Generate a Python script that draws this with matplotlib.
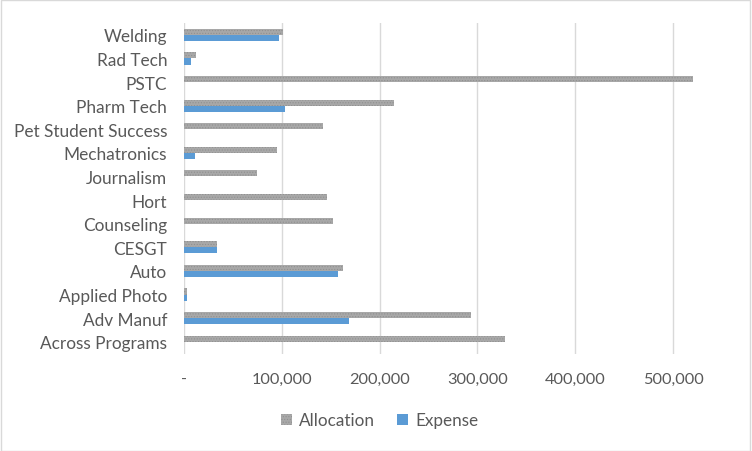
import numpy as np
import matplotlib
matplotlib.use('agg')
import matplotlib.pyplot as plt
from matplotlib.ticker import FuncFormatter
from matplotlib.patches import Rectangle

programs = ["Across Programs", "Adv Manuf", "Applied Photo", "Auto", "CESGT",
            "Counseling", "Hort", "Journalism", "Mechatronics",
            "Pet Student Success", "Pharm Tech", "PSTC", "Rad Tech", "Welding"]
allocation = [328000, 293000, 3500, 163000, 34000,
              152000, 146000, 75000, 95000,
              142000, 215000, 520000, 12000, 101000]
expense = [0, 169000, 3500, 157000, 34000,
           0, 0, 0, 11000,
           0, 103000, 0, 7000, 97000]

plt.rcParams['font.family'] = ['Lato', 'DejaVu Sans']
plt.rcParams['hatch.linewidth'] = 0.5

gray = '#a8a8a8'
blue = '#5b9bd5'
text_col = '#595959'

fig = plt.figure(figsize=(7.52, 4.52), dpi=100)
ax = fig.add_axes([0.2447, 0.2155, 0.7153, 0.7314])

y = np.arange(len(programs))
h = 0.26
ax.barh(y + h / 2, allocation, height=h, color=gray, hatch='......',
        edgecolor='#909090', linewidth=0, label='Allocation', zorder=3)
ax.barh(y - h / 2, expense, height=h, color=blue, linewidth=0,
        label='Expense', zorder=3)

ax.set_ylim(-0.5, len(programs) - 0.5)
ax.set_xlim(0, 550000)
ax.set_xticks([0, 100000, 200000, 300000, 400000, 500000])
ax.xaxis.set_major_formatter(FuncFormatter(lambda v, p: '-' if v == 0 else f'{int(v):,}'))
ax.set_yticks(y)
ax.set_yticklabels(programs)

ax.grid(axis='x', color='#d9d9d9', linewidth=1.0, zorder=0)
for s in ax.spines.values():
    s.set_visible(False)
ax.tick_params(axis='y', length=0, pad=12, labelsize=12.4, labelcolor=text_col)
ax.tick_params(axis='x', length=0, pad=13, labelsize=11.8, labelcolor=text_col)

leg = fig.legend(loc='center', bbox_to_anchor=(0.505, 0.068), ncol=2, frameon=False,
                 fontsize=12.3, handlelength=0.65, handleheight=0.65,
                 columnspacing=1.3, handletextpad=0.4)
for t in leg.get_texts():
    t.set_color(text_col)

fig.patches.append(Rectangle((0.001, 0.001), 0.997, 0.997, transform=fig.transFigure,
                             fill=False, edgecolor='#d9d9d9', linewidth=1.0))

plt.savefig('out.png', dpi=100)
